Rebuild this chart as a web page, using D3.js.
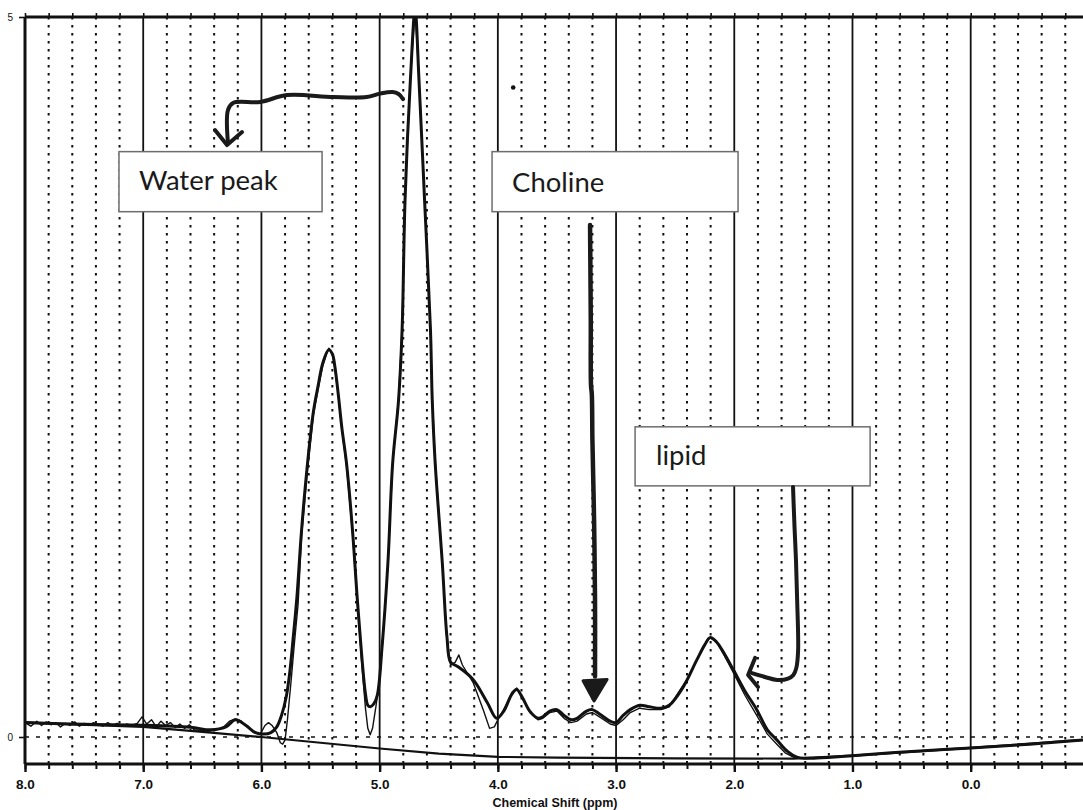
<!DOCTYPE html>
<html>
<head>
<meta charset="utf-8">
<script src="https://cdn.jsdelivr.net/npm/d3@7"></script>
<style>
  html, body { margin: 0; padding: 0; background: #fff; }
  svg { display: block; }
</style>
</head>
<body>
<svg id="chart" width="1083" height="810"></svg>
<script>
// ---------- data (chemical shift in ppm, signal in arbitrary units) ----------
const fitPpm = [8.00,7.50,7.00,6.60,6.43,6.30,6.22,6.13,6.05,5.98,5.92,5.87,5.83,5.79,5.76,5.73,5.70,5.66,5.61,5.56,5.52,5.48,5.43,5.40,5.38,5.35,5.32,5.28,5.23,5.19,5.15,5.12,5.10,5.08,5.05,5.02,4.98,4.93,4.89,4.84,4.81,4.785,4.74,4.70,4.667,4.62,4.57,4.555,4.53,4.47,4.43,4.40,4.34,4.21,4.09,4.01,3.95,3.88,3.84,3.79,3.73,3.66,3.62,3.56,3.50,3.44,3.38,3.33,3.25,3.20,3.14,3.05,3.00,2.94,2.88,2.80,2.72,2.62,2.55,2.43,2.32,2.25,2.205,2.15,2.10,2.01,1.91,1.81,1.72,1.64,1.55,1.47,1.40,1.30,1.00,0.50,0.00,-0.50,-0.95];
const fitVal = [0.100,0.088,0.082,0.068,0.050,0.070,0.120,0.080,0.030,0.020,0.030,0.070,0.150,0.280,0.450,0.700,0.970,1.440,1.900,2.260,2.440,2.600,2.690,2.660,2.580,2.380,2.150,1.900,1.440,0.970,0.550,0.300,0.220,0.210,0.230,0.290,0.620,1.210,1.900,2.340,2.830,3.730,4.560,5.050,4.560,3.730,2.830,2.340,1.900,1.210,0.690,0.520,0.490,0.400,0.240,0.130,0.180,0.300,0.330,0.270,0.180,0.130,0.140,0.180,0.190,0.150,0.120,0.130,0.180,0.190,0.160,0.110,0.100,0.150,0.190,0.220,0.210,0.200,0.220,0.350,0.530,0.640,0.690,0.660,0.600,0.470,0.320,0.190,0.050,-0.020,-0.100,-0.140,-0.148,-0.146,-0.130,-0.100,-0.076,-0.050,-0.020];

const dataPpm = [8.00,7.95,7.90,7.86,7.82,7.78,7.74,7.70,7.66,7.62,7.58,7.54,7.50,7.46,7.42,7.38,7.34,7.30,7.26,7.22,7.18,7.14,7.10,7.05,7.01,6.97,6.93,6.89,6.85,6.81,6.77,6.73,6.69,6.65,6.61,6.57,6.52,6.45,6.38,6.32,6.27,6.22,6.17,6.12,6.06,6.01,5.97,5.94,5.91,5.87,5.84,5.82,5.80,5.78,5.75,5.72,5.69,5.66,5.61,5.56,5.52,5.48,5.45,5.43,5.40,5.38,5.35,5.32,5.28,5.23,5.19,5.15,5.12,5.10,5.08,5.06,5.03,5.00,4.98,4.93,4.89,4.84,4.81,4.785,4.74,4.70,4.667,4.62,4.57,4.555,4.53,4.47,4.43,4.40,4.36,4.33,4.30,4.21,4.12,4.07,4.03,4.00,3.95,3.88,3.84,3.79,3.73,3.66,3.62,3.56,3.50,3.44,3.38,3.33,3.25,3.20,3.14,3.05,3.00,2.94,2.88,2.80,2.72,2.62,2.55,2.48,2.40,2.32,2.25,2.205,2.15,2.10,2.01,1.91,1.81,1.72,1.64,1.57,1.50,1.40,1.30,1.00,0.50,0.00,-0.50,-0.95];
const dataVal = [0.100,0.075,0.110,0.080,0.105,0.085,0.100,0.070,0.095,0.080,0.105,0.075,0.095,0.080,0.100,0.085,0.075,0.100,0.080,0.095,0.075,0.090,0.080,0.095,0.140,0.090,0.120,0.070,0.110,0.080,0.100,0.065,0.090,0.060,0.085,0.050,0.045,0.040,0.050,0.070,0.110,0.125,0.110,0.070,0.030,0.020,0.080,0.100,0.080,0.030,-0.040,-0.050,-0.020,0.120,0.380,0.660,0.920,1.400,1.860,2.240,2.420,2.580,2.660,2.700,2.660,2.570,2.370,2.140,1.880,1.420,0.950,0.500,0.200,0.060,0.015,0.060,0.220,0.400,0.600,1.200,1.900,2.350,2.840,3.740,4.570,5.050,4.570,3.740,2.840,2.360,1.920,1.220,0.660,0.500,0.520,0.570,0.500,0.380,0.180,0.060,0.070,0.120,0.190,0.310,0.340,0.270,0.170,0.120,0.130,0.170,0.180,0.130,0.100,0.110,0.160,0.170,0.140,0.090,0.080,0.120,0.170,0.200,0.190,0.190,0.210,0.300,0.400,0.530,0.640,0.690,0.660,0.590,0.450,0.290,0.150,0.020,-0.050,-0.110,-0.140,-0.150,-0.146,-0.130,-0.100,-0.076,-0.050,-0.020];

const basePpm = [8.00,7.00,6.50,6.00,5.50,5.00,4.50,4.00,3.50,2.50,1.50,1.00,0.00,-0.95];
const baseVal = [0.100,0.070,0.035,0.000,-0.040,-0.080,-0.115,-0.138,-0.143,-0.148,-0.150,-0.130,-0.076,-0.020];

const xTickLabels = ["8.0","7.0","6.0","5.0","4.0","3.0","2.0","1.0","0.0"];
const yTickLabels = ["0","5"];
const xTitle = "Chemical Shift (ppm)";

// annotation labels and their anchor points (ppm, value)
const noteLabels = ["Water peak", "Choline", "lipid"];
const waterArrowPpm = [4.802,4.84,4.89,4.997,5.11,5.394,5.783,6.01,6.240,6.283,6.283];
const waterArrowVal = [4.430,4.465,4.479,4.468,4.444,4.444,4.458,4.410,4.403,4.354,4.125];
const cholineArrowPpm = [3.220,3.214,3.212,3.205,3.200,3.186,3.178,3.178];
const cholineArrowVal = [3.556,2.900,2.444,2.380,2.063,1.507,0.951,0.420];
const lipidArrowPpm = [1.503,1.490,1.478,1.468,1.460,1.475,1.500,1.545,1.638,1.740,1.850];
const lipidArrowVal = [1.736,1.450,1.229,0.950,0.600,0.480,0.430,0.405,0.396,0.417,0.444];

// ---------- layout ----------
const W = 1083, H = 810;
const mLeft = 25, mTop = 17, mBottom = 764, mRight = 1083;
const svg = d3.select("#chart");

const x = d3.scaleLinear().domain([8, -0.95]).range([mLeft, mRight]);
const y = d3.scaleLinear().domain([-0.1875, 5]).range([mBottom, mTop]);

svg.append("defs").append("clipPath").attr("id","plotclip")
  .append("rect").attr("x", mLeft).attr("y", mTop).attr("width", mRight-mLeft).attr("height", mBottom-mTop);

const minorVals = d3.range(0, 45).map(i => +(8 - i*0.2).toFixed(1));
const majorVals = minorVals.filter(v => Math.abs(v - Math.round(v)) < 1e-6);
const dotVals = minorVals.filter(v => Math.abs(v - Math.round(v)) >= 1e-6);

// dotted minor grid
svg.append("g").selectAll("line").data(dotVals).join("line")
  .attr("x1", d => x(d)).attr("x2", d => x(d))
  .attr("y1", mTop).attr("y2", mBottom)
  .attr("stroke", "#111").attr("stroke-width", 2)
  .attr("stroke-dasharray", "2.5,5.5");

// dashed zero line
svg.append("line")
  .attr("x1", mLeft).attr("x2", mRight).attr("y1", y(0)).attr("y2", y(0))
  .attr("stroke", "#111").attr("stroke-width", 1.5).attr("stroke-dasharray", "4,7");

// solid major grid
svg.append("g").selectAll("line").data(majorVals.filter(v => v < 8)).join("line")
  .attr("x1", d => x(d)).attr("x2", d => x(d))
  .attr("y1", mTop).attr("y2", mBottom)
  .attr("stroke", "#111").attr("stroke-width", 1.8);

// ---------- curves ----------
const lineGen = d3.line().x(d => x(d[0])).y(d => y(d[1])).curve(d3.curveCatmullRom.alpha(0.5));
const plot = svg.append("g").attr("clip-path", "url(#plotclip)");

plot.append("path").datum(d3.zip(basePpm, baseVal))
  .attr("d", d3.line().x(d => x(d[0])).y(d => y(d[1])))
  .attr("fill", "none").attr("stroke", "#111").attr("stroke-width", 2.2);

plot.append("path").datum(d3.zip(dataPpm, dataVal))
  .attr("d", d3.line().x(d => x(d[0])).y(d => y(d[1])).curve(d3.curveLinear))
  .attr("fill", "none").attr("stroke", "#111").attr("stroke-width", 1.4).attr("stroke-linejoin","round");

plot.append("path").datum(d3.zip(fitPpm, fitVal))
  .attr("d", lineGen)
  .attr("fill", "none").attr("stroke", "#111").attr("stroke-width", 3).attr("stroke-linejoin","round");

// ---------- axes ----------
const axisFont = "'Liberation Sans', Arial, sans-serif";
const xMinor = svg.append("g").attr("transform", `translate(0,${mBottom})`)
  .call(d3.axisBottom(x).tickValues(minorVals).tickSize(5).tickFormat(""));
xMinor.select(".domain").remove();
xMinor.selectAll("line").attr("stroke", "#111").attr("stroke-width", 2);
const xMajor = svg.append("g").attr("transform", `translate(0,${mBottom})`)
  .call(d3.axisBottom(x).tickValues(majorVals).tickSize(8).tickPadding(7)
        .tickFormat((d, i) => xTickLabels[i]));
xMajor.select(".domain").remove();
xMajor.selectAll("line").attr("stroke", "#111").attr("stroke-width", 2.4);
xMajor.selectAll("text").attr("font-family", axisFont).attr("font-size", 13.5)
  .attr("font-weight", "bold").attr("fill", "#111");
svg.append("line").attr("x1", mLeft).attr("x2", mRight).attr("y1", mBottom).attr("y2", mBottom)
  .attr("stroke", "#111").attr("stroke-width", 3);

const xTop = svg.append("g").attr("transform", `translate(0,${mTop})`)
  .call(d3.axisTop(x).tickValues(minorVals).tickSize(4).tickFormat(""));
xTop.select(".domain").remove();
xTop.selectAll("line").attr("stroke", "#111").attr("stroke-width", 1.6);
svg.append("line").attr("x1", mLeft).attr("x2", mRight).attr("y1", mTop).attr("y2", mTop)
  .attr("stroke", "#111").attr("stroke-width", 3);

const yAx = svg.append("g").attr("transform", `translate(${mLeft},0)`)
  .call(d3.axisLeft(y).tickValues([0, 5]).tickSize(6).tickPadding(6)
        .tickFormat((d, i) => yTickLabels[i]));
yAx.select(".domain").remove();
yAx.selectAll("line").attr("stroke", "#111").attr("stroke-width", 1.6);
yAx.selectAll("text").attr("font-family", axisFont).attr("font-size", 10).attr("fill", "#111");
svg.append("line").attr("x1", mLeft).attr("x2", mLeft).attr("y1", mTop).attr("y2", mBottom)
  .attr("stroke", "#111").attr("stroke-width", 3);

svg.append("text").attr("x", 555).attr("y", 807).attr("text-anchor", "middle")
  .attr("font-family", axisFont).attr("font-size", 12.5).attr("font-weight", "bold")
  .attr("fill", "#111").text(xTitle);

svg.append("circle").attr("cx", x(3.87)).attr("cy", y(4.51)).attr("r", 2.3).attr("fill", "#111");

// ---------- annotations ----------
const noteFont = "Lato, 'Open Sans', sans-serif";
const boxes = [
  { x0: 7.205, x1: 5.487, v0: 4.065, v1: 3.648, tx: 7.036, tv: 3.80 },
  { x0: 4.049, x1: 1.968, v0: 4.065, v1: 3.648, tx: 3.880, tv: 3.787 },
  { x0: 2.839, x1: 0.851, v0: 2.154, v1: 1.744, tx: 2.662, tv: 1.890 }
];
boxes.forEach((b, i) => {
  svg.append("rect")
    .attr("x", x(b.x0)).attr("y", y(b.v0))
    .attr("width", x(b.x1) - x(b.x0)).attr("height", y(b.v1) - y(b.v0))
    .attr("fill", "#fff").attr("stroke", "#6d6d6d").attr("stroke-width", 1.5);
  svg.append("text").attr("x", x(b.tx)).attr("y", y(b.tv))
    .attr("font-family", noteFont).attr("font-size", 27.5).attr("fill", "#1a1a1a")
    .text(noteLabels[i]);
});

const arrowLine = d3.line().x(d => x(d[0])).y(d => y(d[1])).curve(d3.curveCatmullRom.alpha(0.5));
function drawArrow(ppm, val, w) {
  svg.append("path").datum(d3.zip(ppm, val)).attr("d", arrowLine)
    .attr("fill", "none").attr("stroke", "#1a1a1a").attr("stroke-width", w)
    .attr("stroke-linecap", "round").attr("stroke-linejoin", "round");
}
drawArrow(waterArrowPpm, waterArrowVal, 4);
drawArrow(cholineArrowPpm, cholineArrowVal, 4.5);
drawArrow(lipidArrowPpm, lipidArrowVal, 4);

const headW = [[6.393,4.215],[6.291,4.111],[6.164,4.201]];
svg.append("path").datum(headW).attr("d", d3.line().x(d => x(d[0])).y(d => y(d[1])))
  .attr("fill", "none").attr("stroke", "#1a1a1a").attr("stroke-width", 4)
  .attr("stroke-linecap", "round").attr("stroke-linejoin", "round");
const headC = [[3.279,0.390],[3.076,0.400],[3.186,0.250]];
svg.append("path").datum(headC).attr("d", d3.line().x(d => x(d[0])).y(d => y(d[1])).curve(d3.curveLinearClosed))
  .attr("fill", "#1a1a1a").attr("stroke", "#1a1a1a").attr("stroke-width", 3).attr("stroke-linejoin", "round");
const headL = [[1.824,0.549],[1.883,0.431],[1.799,0.347]];
svg.append("path").datum(headL).attr("d", d3.line().x(d => x(d[0])).y(d => y(d[1])))
  .attr("fill", "none").attr("stroke", "#1a1a1a").attr("stroke-width", 4)
  .attr("stroke-linecap", "round").attr("stroke-linejoin", "round");
</script>
</body>
</html>
